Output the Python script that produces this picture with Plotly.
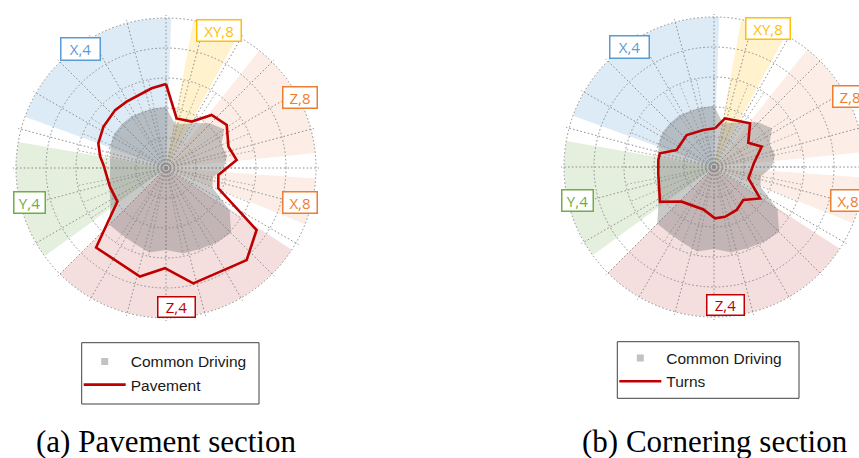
import plotly.graph_objects as go

# ---------------------------------------------------------------- data
# Background sectors: label, start and end angle (degrees, counter-clockwise from east)
SECTOR_LABELS = ["X,4", "XY,8", "Z,8", "X,8", "Z,4", "Y,4"]
SECTOR_START = [88.0, 61.5, 5.7, -22.0, -135.0, 170.0]
SECTOR_END = [160.0, 79.5, 51.6, -4.0, -33.0, 216.0]
SECTOR_EXTENT = 5.0

# Common driving profile: 32 evenly spaced categories, clockwise from north
COMMON_DRIVING = [2.03, 1.50, 1.60, 1.80, 2.10, 2.33, 2.00, 2.07,
                  1.93, 1.60, 1.67, 2.55, 3.07, 3.00, 2.93, 2.90,
                  2.73, 2.87, 2.73, 2.67, 2.67, 2.23, 2.03, 1.90,
                  1.87, 1.90, 2.00, 2.07, 2.07, 2.07, 2.03, 2.03]

# Pavement section profile (angle in degrees, value)
PAVEMENT_THETA = [90.0, 77.9, 61.0, 49.3, 35.3, 18.9, 6.5, -7.6, -21.2, -34.4,
                  -48.8, -76.7, -90.6, -103.5, -131.3, -145.3, -161.6, 177.0,
                  170.0, 160.0, 146.6, 131.3, 120.7, 100.2]
PAVEMENT_R = [2.80, 1.69, 1.77, 2.33, 2.48, 2.20, 2.37, 1.76, 1.87, 3.66,
              4.08, 3.95, 3.34, 3.72, 3.53, 1.97, 1.97, 2.09,
              2.23, 2.40, 2.50, 2.57, 2.57, 2.70]

# Cornering section profile (angle in degrees, value)
TURNS_THETA = [88.5, 77.3, 50.5, 35.3, 23.1, 5.0, -18.3, -34.3, -48.4, -62.2,
               -77.5, -88.9, -104.0, -133.0, -147.3, -173.5, 172.8, 165.8,
               155.5, 130.5, 106.0]
TURNS_R = [1.29, 1.66, 1.89, 1.40, 1.73, 1.33, 1.21, 1.86, 1.47, 1.62,
           1.70, 1.71, 1.46, 1.58, 2.14, 1.87, 1.87, 1.86,
           1.37, 1.40, 1.28]

RINGS = [1, 2, 3, 4, 5]

PANELS = [
    dict(series="Pavement", theta=PAVEMENT_THETA, r=PAVEMENT_R,
         caption="(a) Pavement section"),
    dict(series="Turns", theta=TURNS_THETA, r=TURNS_R,
         caption="(b) Cornering section"),
]

# ---------------------------------------------------------------- style / layout
W, H = 872, 458
PX_PER_UNIT = 30                      # radial scale in pixels per unit
R_MAX = 5.1                           # radial range, a little beyond the last ring
R_INNER = 3                           # extent of the fine angular grid

SECTOR_FILL = {"X,4": "#DDEBF7", "XY,8": "#FFF2CC", "Z,8": "#FCEEE6",
               "X,8": "#FCEEE6", "Z,4": "#F5DEDE", "Y,4": "#E5EFDD"}
SECTOR_EDGE = {"X,4": "#5B9BD5", "XY,8": "#FFC000", "Z,8": "#ED7D31",
               "X,8": "#ED7D31", "Z,4": "#C00000", "Y,4": "#70AD47"}
GRID = "#8f8f8f"
GRID_INNER = "#a8a8a8"
GRID_DASH = "1.6px,2.2px"
GRAY_FILL = "rgba(120,120,120,0.40)"
LINE_RED = "#C00000"

# per-panel geometry in pixels
PANEL_GEOM = [
    dict(center=(166, 168), legend_box=(81.7, 342.7, 259.0, 404.0), caption_xy=(166, 441),
         labels={"X,4": (80, 49, 41, 24), "XY,8": (219, 31, 46, 23), "Z,8": (300, 98, 36, 23),
                 "X,8": (300, 202, 36, 23), "Y,4": (29, 202, 33, 23), "Z,4": (176, 307, 39, 22)}),
    dict(center=(714, 167), legend_box=(617.3, 341.7, 799.0, 398.3), caption_xy=(715, 441),
         labels={"X,4": (629, 47, 41, 24), "XY,8": (768, 28, 46, 23), "Z,8": (850, 96, 36, 23),
                 "X,8": (848, 200, 36, 23), "Y,4": (577, 200, 33, 23), "Z,4": (725, 305, 39, 22)}),
]


def fx(x):
    return x / W


def fy(y):
    return 1 - y / H


def domain(center, rmax):
    cx, cy = center
    radius = rmax * PX_PER_UNIT
    return dict(x=[fx(cx - radius), fx(cx + radius)], y=[fy(cy + radius), fy(cy - radius)])


def polar_layout(center, rmax, rings, dtick, tick0, color=GRID, show=True):
    return dict(
        domain=domain(center, rmax),
        bgcolor="rgba(0,0,0,0)",
        radialaxis=dict(range=[0, rmax], tickvals=rings, showticklabels=False, ticks="",
                        showline=False, showgrid=show and bool(rings), gridcolor=color,
                        griddash=GRID_DASH, gridwidth=1.2, visible=show),
        angularaxis=dict(rotation=0, direction="counterclockwise", thetaunit="degrees",
                         tickmode="linear", tick0=tick0, dtick=dtick, showticklabels=False,
                         ticks="", showline=False, showgrid=show and dtick is not None,
                         gridcolor=color, griddash=GRID_DASH, gridwidth=1.2, visible=show),
    )


fig = go.Figure()
layout = dict(width=W, height=H, margin=dict(l=0, r=0, t=0, b=0),
              paper_bgcolor="white", plot_bgcolor="white", showlegend=True,
              annotations=[], shapes=[])

n_cat = len(COMMON_DRIVING)
common_theta = [90 - i * 360 / n_cat for i in range(n_cat)]

for p, (panel, geom) in enumerate(zip(PANELS, PANEL_GEOM)):
    base = 3 * p
    sec_id, inner_id, data_id = (f"polar{base + k}" if base + k > 1 else "polar" for k in (1, 2, 3))
    legend_id = "legend" if p == 0 else f"legend{p + 1}"

    # sector background
    fig.add_trace(go.Barpolar(
        r=[SECTOR_EXTENT] * len(SECTOR_LABELS),
        theta=[(s + e) / 2 for s, e in zip(SECTOR_START, SECTOR_END)],
        width=[e - s for s, e in zip(SECTOR_START, SECTOR_END)],
        marker=dict(color=[SECTOR_FILL[l] for l in SECTOR_LABELS], line=dict(width=0)),
        subplot=sec_id, showlegend=False, hoverinfo="skip", name="sectors"))

    # placeholder so the inner grid is rendered
    fig.add_trace(go.Scatterpolar(r=[None], theta=[None], subplot=inner_id, mode="lines",
                                  showlegend=False, hoverinfo="skip"))

    # common driving area
    fig.add_trace(go.Scatterpolar(
        r=COMMON_DRIVING, theta=common_theta, mode="lines", fill="toself",
        fillcolor=GRAY_FILL, line=dict(width=0), subplot=data_id,
        showlegend=False, name="Common Driving"))
    # legend entry for the common driving area
    fig.add_trace(go.Scatterpolar(
        r=[None], theta=[None], mode="markers", name="Common Driving",
        marker=dict(symbol="square", size=7, color="#c2c2c2", line=dict(width=0)),
        subplot=data_id, legend=legend_id, showlegend=True))
    # section profile
    fig.add_trace(go.Scatterpolar(
        r=panel["r"] + panel["r"][:1], theta=panel["theta"] + panel["theta"][:1],
        mode="lines", line=dict(color=LINE_RED, width=2.6), name=panel["series"],
        subplot=data_id, legend=legend_id, showlegend=True))

    c = geom["center"]
    layout[sec_id] = polar_layout(c, SECTOR_EXTENT, None, None, 0, show=False)
    layout[inner_id] = polar_layout(c, R_INNER, None, 360 / n_cat, 90, color=GRID_INNER)
    layout[data_id] = polar_layout(c, R_MAX, RINGS, 15, 0)

    # sector labels
    for lab in SECTOR_LABELS:
        x, y, w, h = geom["labels"][lab]
        layout["annotations"].append(dict(
            x=fx(x), y=fy(y), xref="paper", yref="paper", xanchor="center", yanchor="middle",
            text=lab, showarrow=False, width=w - 3, height=h - 3, borderpad=0,
            font=dict(family="Open Sans", size=15, color=SECTOR_EDGE[lab]),
            bordercolor=SECTOR_EDGE[lab], borderwidth=1.5, bgcolor="white"))

    # legend frame and legend
    x0, y0, x1, y1 = geom["legend_box"]
    layout["shapes"].append(dict(type="rect", xref="paper", yref="paper",
                                 x0=fx(x0), x1=fx(x1), y0=fy(y1), y1=fy(y0),
                                 line=dict(color="#404040", width=1), fillcolor="white",
                                 layer="below"))
    layout[legend_id] = dict(x=fx(x0 - 3), xanchor="left", y=fy((y0 + y1) / 2), yanchor="middle",
                             bgcolor="rgba(0,0,0,0)", borderwidth=0, traceorder="normal",
                             itemwidth=42, tracegroupgap=0,
                             font=dict(family="Liberation Sans, Arial", size=15.5, color="#1a1a1a"))

    # caption
    cx, cy = geom["caption_xy"]
    layout["annotations"].append(dict(
        x=fx(cx), y=fy(cy), xref="paper", yref="paper", xanchor="center", yanchor="middle",
        text=panel["caption"], showarrow=False,
        font=dict(family="Liberation Serif", size=31, color="black")))

fig.update_layout(**layout)
fig.write_html("out.html", config={"displayModeBar": False},
               post_script="document.documentElement.style.overflow='hidden';"
                           "document.body.style.overflow='hidden';")
